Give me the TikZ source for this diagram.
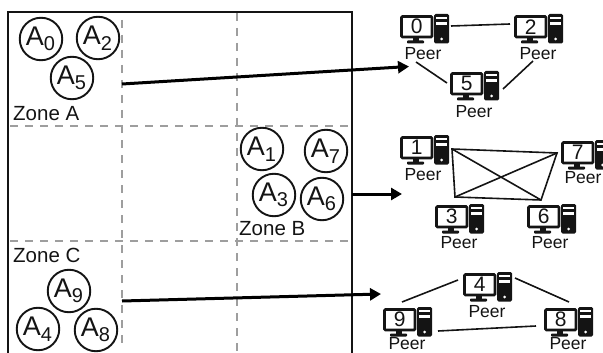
\documentclass[tikz,border=0pt]{standalone}
\usepackage{fontspec}
\setmainfont{Liberation Sans}
\usetikzlibrary{arrows.meta}
\definecolor{dashgray}{gray}{0.62}
\definecolor{ink}{gray}{0.08}
\tikzset{
  x=1pt,y=-1pt,
  zonedash/.style={draw=dashgray,line width=1.5pt,dash pattern=on 8pt off 7pt},
  border/.style={draw=ink,line width=2.6pt},
  agent/.style={circle,draw=ink,line width=1.9pt,minimum size=42.5pt,inner sep=0pt,text=ink,font=\fontsize{27}{27}\selectfont},
  zonelabel/.style={anchor=west,inner sep=0pt,text=ink,font=\fontsize{20.5}{21}\selectfont},
  monitor/.style={draw=ink,line width=2.6pt,rounded corners=1pt,minimum width=30.5pt,minimum height=20.5pt,inner sep=0pt,anchor=north west,text=ink,font=\fontsize{21}{21}\selectfont},
  peerlabel/.style={inner sep=0pt,text=ink,font=\fontsize{17.5}{17.5}\selectfont},
  link/.style={draw=ink,line width=1.6pt},
  feed/.style={draw=black,line width=3pt,-{Triangle[length=11pt,width=12pt]}},
}
\newcommand{\sub}[2]{\hspace{-1pt}A\raisebox{-5.5pt}{\fontsize{20}{20}\selectfont #2}}
% \peerbox{id}{digit}{x}{y}{label dx}{label dy}
\newcommand{\peerbox}[6]{%
  \node[monitor] (m#1) at (#3+1.2,#4+1.2) {\raisebox{-1pt}{#2}};
  \fill[ink] (#3+14,#4+22) rectangle (#3+19.5,#4+27);
  \fill[ink,rounded corners=0.8pt] (#3+8,#4+26.5) rectangle (#3+25,#4+29.5);
  \fill[ink,rounded corners=1.5pt] (#3+35,#4) rectangle (#3+50,#4+29.5);
  \fill[white] (#3+36.8,#4+3) rectangle (#3+48.2,#4+5.4);
  \fill[white] (#3+36.8,#4+8) rectangle (#3+48.2,#4+10.6);
  \fill[white] (#3+42.5,#4+25) circle (1.5);
  \node[peerlabel] (p#1) at (#3+#5,#4+#6) {Peer};
}
\begin{document}
\begin{tikzpicture}
\useasboundingbox (0,0) rectangle (603,353);
\clip (0,0) rectangle (603,353);
% zones
\coordinate (ntl) at (8,12);
\coordinate (ntr) at (352,12);
\coordinate (nbl) at (8,356);
\coordinate (nbr) at (352,356);
\coordinate (v1t) at (122,20);
\coordinate (v1b) at (122,344);
\coordinate (v2t) at (237,13);
\coordinate (v2b) at (237,353);
\coordinate (h1l) at (10,126);
\coordinate (h1r) at (352,126);
\coordinate (h2l) at (10,241);
\coordinate (h2r) at (352,241);
\draw[zonedash] (v1t) -- (v1b);
\draw[zonedash] (v2t) -- (v2b);
\draw[zonedash] (h1l) -- (h1r);
\draw[zonedash] (h2l) -- (h2r);
\draw[border] (nbl) -- (ntl) -- (ntr) -- (nbr);
% agents
\node[agent] (a0) at (41,39) {\sub{A}{0}};
\node[agent] (a2) at (98,38) {\sub{A}{2}};
\node[agent] (a5) at (72,78) {\sub{A}{5}};
\node[agent] (a1) at (262,149) {\sub{A}{1}};
\node[agent] (a7) at (326,151) {\sub{A}{7}};
\node[agent] (a3) at (274,195) {\sub{A}{3}};
\node[agent] (a6) at (322,199) {\sub{A}{6}};
\node[agent] (a9) at (69,291) {\sub{A}{9}};
\node[agent] (a4) at (38,329) {\sub{A}{4}};
\node[agent] (a8) at (96,330) {\sub{A}{8}};
\node[zonelabel] (za) at (13,114) {Zone A};
\node[zonelabel] (zb) at (239,229) {Zone B};
\node[zonelabel] (zc) at (13,255) {Zone C};
% peers
\peerbox{0}{0}{399}{14}{24}{40}
\peerbox{2}{2}{513}{14}{25}{40}
\peerbox{5}{5}{449}{71}{25}{41}
\peerbox{1}{1}{399}{135}{24}{40}
\peerbox{7}{7}{560}{140}{23}{38}
\peerbox{3}{3}{434}{204}{25}{38.5}
\peerbox{6}{6}{526}{204}{24}{38.5}
\peerbox{4}{4}{462}{272}{25}{40}
\peerbox{9}{9}{382}{307}{25}{37}
\peerbox{8}{8}{543}{307}{25}{37}
% connector ends
\coordinate (e0r) at (451,26);
\coordinate (e2l) at (510,24);
\coordinate (e0b) at (416,62);
\coordinate (e5l) at (447,83);
\coordinate (e2b) at (533,61);
\coordinate (e5r) at (503,89);
\coordinate (e1) at (452,149);
\coordinate (e7) at (557,153);
\coordinate (e6) at (541,200);
\coordinate (e3) at (455,197);
\coordinate (e4l) at (458,280);
\coordinate (e9t) at (402,302);
\coordinate (e4r) at (515,278);
\coordinate (e8t) at (569,302);
\coordinate (e9r) at (438,331);
\coordinate (e8l) at (536,326);
\draw[link] (e0r) -- (e2l);
\draw[link] (e0b) -- (e5l);
\draw[link] (e2b) -- (e5r);
\draw[link] (e1) -- (e7) -- (e6) -- (e3) -- cycle;
\draw[link] (e1) -- (e6);
\draw[link] (e7) -- (e3);
\draw[link] (e4l) -- (e9t);
\draw[link] (e4r) -- (e8t);
\draw[link] (e9r) -- (e8l);
% feeds
\coordinate (fa) at (122,84);
\coordinate (ta) at (409,66.5);
\coordinate (fb) at (352,194);
\coordinate (tb) at (402,194);
\coordinate (fc) at (122,301);
\coordinate (tc) at (381,294);
\draw[feed] (fa) -- (ta);
\draw[feed] (fb) -- (tb);
\draw[feed] (fc) -- (tc);
\end{tikzpicture}
\end{document}
